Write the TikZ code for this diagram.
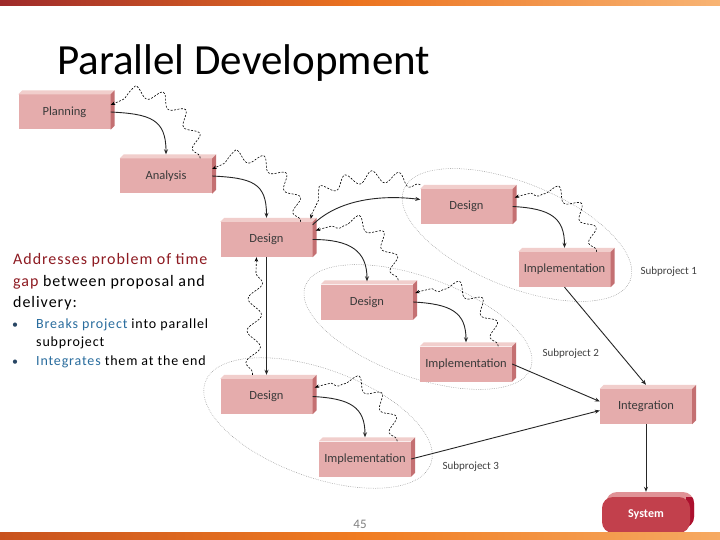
\documentclass[tikz,border=0pt]{standalone}
\usepackage{fontspec}
\setmainfont{Carlito}
\newfontfamily\desctext[LetterSpace=6]{Carlito}
\newfontfamily\bultext[LetterSpace=6]{Carlito}
\usetikzlibrary{decorations.pathmorphing,arrows.meta}

\definecolor{boxfront}{RGB}{229,172,172}
\definecolor{boxtop}{RGB}{241,206,204}
\definecolor{boxside}{RGB}{196,112,114}
\definecolor{boxtext}{RGB}{58,58,58}
\definecolor{tred}{RGB}{142,27,34}
\definecolor{tblue}{RGB}{42,109,158}
\definecolor{bulletc}{RGB}{40,70,100}
\definecolor{sysfront}{RGB}{194,64,76}
\definecolor{systop}{RGB}{224,146,150}
\definecolor{sysside}{RGB}{172,16,46}
\definecolor{barA}{RGB}{158,42,42}
\definecolor{barB}{RGB}{236,116,32}
\definecolor{barC}{RGB}{248,180,116}
\definecolor{barD}{RGB}{200,82,30}
\definecolor{barE}{RGB}{240,124,34}
\definecolor{barF}{RGB}{246,170,98}

\begin{document}
\begin{tikzpicture}[x=1pt,y=-1pt,
  stagebox/.style={fill=boxfront, minimum width=92pt, minimum height=35pt, inner sep=0pt,
    font=\fontsize{12.5}{14}\selectfont, text=boxtext},
  flow/.style={-{Stealth[length=5pt,width=4pt]}, line width=0.9pt, black!85},
  wave/.style={dash pattern=on 2pt off 1.5pt, line width=0.6pt, black,
    decorate, decoration={snake, amplitude=6pt, segment length=26pt, pre length=2pt, post length=5pt},
    -{Stealth[length=4.5pt,width=3.5pt]}},
  grp/.style={dash pattern=on 0.6pt off 1.2pt, black!45, line width=0.5pt},
  sublabel/.style={font=\fontsize{11}{13}\selectfont, text=black!75, anchor=west},
  desc/.style={anchor=base west, font=\desctext\fontsize{16}{18}\selectfont, inner sep=0pt},
  bul/.style={anchor=base west, font=\bultext\fontsize{14}{16}\selectfont, inner sep=0pt},
]
\useasboundingbox (0,0) rectangle (720,540);
\fill[white] (0,0) rectangle (720,540);

% top bar
\shade[left color=barA, right color=barC, middle color=barB] (0,0) rectangle (720,6);

% title
\node[anchor=base west, font=\fontsize{43}{46}\selectfont, inner sep=0pt] (title) at (57,75) {Parallel Development};

% left text
\node[desc] (l1) at (13,264) {\textcolor{tred}{Addresses problem of time}};
\node[desc] (l2) at (13,286) {\textcolor{tred}{gap} between proposal and};
\node[desc] (l3) at (13,307) {delivery:};
\node[anchor=base west, inner sep=0pt, font=\fontsize{12}{14}\selectfont, text=bulletc] (b1) at (12,328) {•};
\node[bul] (t1) at (36,328) {\textcolor{tblue}{Breaks project} into parallel};
\node[bul] (t2) at (36,346) {subproject};
\node[anchor=base west, inner sep=0pt, font=\fontsize{12}{14}\selectfont, text=bulletc] (b2) at (12,365) {•};
\node[bul] (t3) at (36,365) {\textcolor{tblue}{Integrates} them at the end};

% subproject groups
\draw[grp, rotate around={-22:(517,235)}] (517,235) ellipse [x radius=122pt, y radius=52pt];
\draw[grp, rotate around={-20:(418,327)}] (418,327) ellipse [x radius=120pt, y radius=50pt];
\draw[grp, rotate around={-20:(318,423)}] (318,423) ellipse [x radius=120pt, y radius=54pt];

% boxes
\node[stagebox] (plan) at (64.5,112) {Planning};
\node[stagebox] (ana) at (166,176) {Analysis};
\node[stagebox] (d0) at (266.5,239.5) {Design};
\node[stagebox] (d1) at (466.5,206.5) {Design};
\node[stagebox] (i1) at (564.5,269.5) {Implementation};
\node[stagebox] (d2) at (367,302) {Design};
\node[stagebox] (i2) at (466,364) {Implementation};
\node[stagebox] (d3) at (266.5,396.5) {Design};
\node[stagebox] (i3) at (365,459) {Implementation};
\node[stagebox] (integ) at (646,406.5) {Integration};

\foreach \n in {plan,ana,d0,d1,i1,d2,i2,d3,i3,integ} {
  \fill[boxtop] (\n.north west) -- ([shift={(4,-4)}]\n.north west) -- ([shift={(4,-4)}]\n.north east) -- (\n.north east) -- cycle;
  \fill[boxside] (\n.north east) -- ([shift={(4,-4)}]\n.north east) -- ([shift={(4,-4)}]\n.south east) -- (\n.south east) -- cycle;
}

% system
\fill[systop, rounded corners=11pt] (606,492) rectangle (694,528);
\begin{scope}
  \clip[rounded corners=11pt] (606,492) rectangle (694,528);
  \fill[sysside] (686,497) rectangle (696,530);
\end{scope}
\node[fill=sysfront, rounded corners=11pt, minimum width=88pt, minimum height=36pt, inner sep=0pt,
  font=\bfseries\fontsize{12}{14}\selectfont, text=white] (sys) at (646,515) {System};

% solid flow
\draw[flow] (plan.east) .. controls +(40,2) and +(0,-35) .. ([yshift=4pt]ana.north);
\draw[flow] (ana.east) .. controls +(40,2) and +(0,-35) .. ([yshift=4pt]d0.north);
\draw[flow] ([yshift=-3pt]d0.north east) .. controls +(25,-25) and +(-40,-5) .. ([yshift=7pt]d1.west);
\draw[flow] (d0.east) .. controls +(38,0) and +(0,-30) .. ([yshift=3pt]d2.north);
\draw[flow] (d1.east) .. controls +(38,2) and +(0,-30) .. ([yshift=4pt]i1.north);
\draw[flow] (d2.east) .. controls +(38,2) and +(0,-30) .. ([yshift=4pt]i2.north);
\draw[flow] (d3.east) .. controls +(38,2) and +(0,-30) .. ([yshift=4pt]i3.north);
\draw[flow] (d0.south) -- ([yshift=4pt]d3.north);
\draw[flow] (i1.south) -- ([yshift=4pt]integ.north);
\draw[flow] (i2.east) -- ([yshift=5pt]integ.west);
\draw[flow] (i3.east) -- ([yshift=-4pt]integ.west);
\draw[flow] (integ.south) -- ([yshift=5pt]sys.north);

% feedback waves
\draw[wave] ([xshift=-12pt]ana.north east) .. controls +(-8,-45) and +(40,-20) .. ([yshift=7pt]plan.east);
\draw[wave] ([xshift=-12pt]d0.north east) .. controls +(-8,-45) and +(40,-20) .. ([yshift=7pt]ana.east);
\draw[wave] ([yshift=4pt]d1.north west) .. controls +(-40,-15) and +(5,-35) .. ([shift={(-2,-3)}]d0.north east);
\draw[wave] ([shift={(-15,-4)}]d2.north east) .. controls +(-10,-45) and +(45,-15) .. ([shift={(3,-9)}]d0.east);
\draw[wave] ([xshift=-14pt]i1.north east) .. controls +(-8,-40) and +(40,-15) .. ([shift={(2,-9)}]d1.east);
\draw[wave] ([xshift=-14pt]i2.north east) .. controls +(-8,-40) and +(40,-15) .. ([shift={(2,-9)}]d2.east);
\draw[wave] ([xshift=-14pt]i3.north east) .. controls +(-8,-40) and +(40,-15) .. ([shift={(2,-9)}]d3.east);
\draw[wave, decoration={snake, amplitude=7pt, segment length=32pt, pre length=2pt, post length=5pt}]
  ([shift={(-14,-4)}]d3.north) -- ([xshift=-10pt]d0.south);

% labels
\node[sublabel] (s1) at (637,272) {Subproject 1};
\node[sublabel] (s2) at (539,354) {Subproject 2};
\node[sublabel] (s3) at (439,467) {Subproject 3};
\node[font=\fontsize{13}{15}\selectfont, text=black!50] (pg) at (360,524) {45};

% bottom bar
\shade[left color=barD, right color=barF, middle color=barE] (0,532) rectangle (720,540);
\end{tikzpicture}
\end{document}
